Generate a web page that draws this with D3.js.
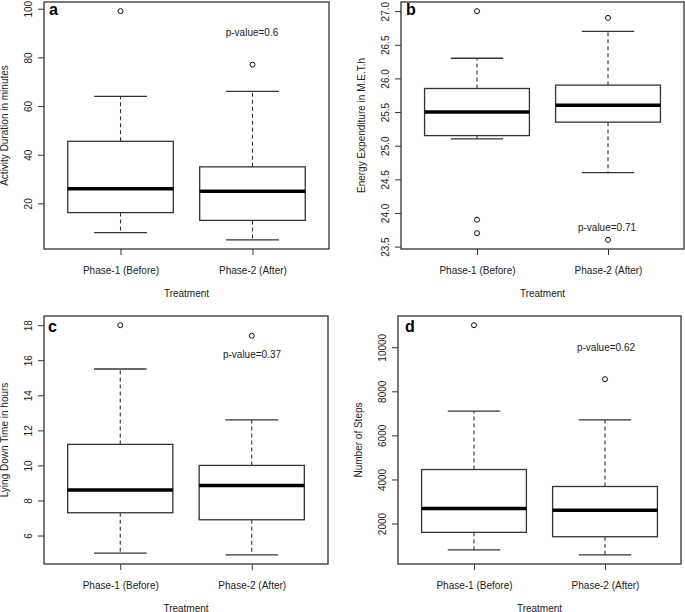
<!DOCTYPE html>
<html>
<head>
<meta charset="utf-8">
<script src="https://cdn.jsdelivr.net/npm/d3@7"></script>
<style>
  body { margin: 0; background: #fff; }
  svg { display: block; font-family: "Liberation Sans", Arial, Helvetica, sans-serif; }
</style>
</head>
<body>
<svg id="chart" width="685" height="612"></svg>
<script>
// ---- data (five-number summaries: [lower whisker, Q1, median, Q3, upper whisker]) ----
const categories = ["Phase-1 (Before)", "Phase-2 (After)"];
const xAxisTitle = "Treatment";

const activityBefore = [8, 16.2, 26, 45.5, 64];
const activityAfter = [5, 13, 25, 35, 66];
const activityOutliers = [[99], [77]];
const activityTicks = [20, 40, 60, 80, 100];

const energyBefore = [25.1, 25.15, 25.5, 25.85, 26.3];
const energyAfter = [24.6, 25.35, 25.6, 25.9, 26.7];
const energyOutliers = [[27.0, 23.9, 23.7], [26.9, 23.6]];
const energyTicks = [23.5, 24.0, 24.5, 25.0, 25.5, 26.0, 26.5, 27.0];

const lyingBefore = [5.0, 7.3, 8.6, 11.2, 15.5];
const lyingAfter = [4.9, 6.9, 8.85, 10.0, 12.6];
const lyingOutliers = [[18.0], [17.4]];
const lyingTicks = [6, 8, 10, 12, 14, 16, 18];

const stepsBefore = [800, 1600, 2680, 4450, 7100];
const stepsAfter = [580, 1400, 2600, 3680, 6700];
const stepsOutliers = [[11000], [8550]];
const stepsTicks = [2000, 4000, 6000, 8000, 10000];

const panelLetters = ["a", "b", "c", "d"];
const yTitles = ["Activity Duration in minutes", "Energy Expenditure in M.E.T.h", "Lying Down Time in hours", "Number of Steps"];
const pValues = ["p-value=0.6", "p-value=0.71", "p-value=0.37", "p-value=0.62"];

// ---- layout ----
const panels = [
  { stats: [activityBefore, activityAfter], outliers: activityOutliers, ticks: activityTicks, fmt: d3.format("d"),
    box: { l: 44, r: 329, t: 2, b: 249 }, letter: [49, 15], pv: [252, 36] },
  { stats: [energyBefore, energyAfter], outliers: energyOutliers, ticks: energyTicks, fmt: d3.format(".1f"),
    box: { l: 401, r: 684, t: 2, b: 249 }, letter: [406, 15], pv: [607, 231] },
  { stats: [lyingBefore, lyingAfter], outliers: lyingOutliers, ticks: lyingTicks, fmt: d3.format("d"),
    box: { l: 44, r: 328, t: 316, b: 564 }, letter: [48, 332], pv: [252, 357.5] },
  { stats: [stepsBefore, stepsAfter], outliers: stepsOutliers, ticks: stepsTicks, fmt: d3.format("d"),
    box: { l: 398, r: 681, t: 316, b: 564 }, letter: [405, 332], pv: [606, 351] }
];

const svg = d3.select("#chart");
const lineCol = "#333";
const textCol = "#222";

panels.forEach((p, i) => {
  const B = p.box;
  const allVals = p.stats.flat().concat(p.outliers.flat());
  const [mn, mx] = d3.extent(allVals);
  const ext = (mx - mn) * 0.04;
  const y = d3.scaleLinear().domain([mn - ext, mx + ext]).range([B.b, B.t]);
  const x = d3.scalePoint().domain(categories).range([B.l, B.r]).padding(0.58);
  const bw = x.step() * 0.8;

  const g = svg.append("g");

  // y axis
  const ya = g.append("g").attr("transform", `translate(${B.l},0)`)
    .call(d3.axisLeft(y).tickValues(p.ticks).tickFormat(p.fmt).tickSize(6).tickSizeOuter(0));
  ya.select(".domain").remove();
  ya.selectAll(".tick line").attr("stroke", lineCol).attr("stroke-width", 1);
  ya.selectAll(".tick text")
    .attr("transform", "rotate(-90)")
    .attr("x", 0).attr("y", -12).attr("dy", 0)
    .attr("text-anchor", "middle")
    .attr("font-size", 10).attr("fill", textCol).attr("font-family", null);

  // x axis
  const xa = g.append("g").attr("transform", `translate(0,${B.b})`)
    .call(d3.axisBottom(x).tickSize(6).tickSizeOuter(0));
  xa.select(".domain").remove();
  xa.selectAll(".tick line").attr("stroke", lineCol).attr("stroke-width", 1);
  xa.selectAll(".tick text").attr("y", 0).attr("dy", 0)
    .attr("transform", "translate(0,24.5)")
    .attr("font-size", 10).attr("fill", textCol).attr("font-family", null);

  // plot frame
  g.append("rect").attr("x", B.l).attr("y", B.t).attr("width", B.r - B.l).attr("height", B.b - B.t)
    .attr("fill", "none").attr("stroke", lineCol).attr("stroke-width", 1.3);

  // boxes
  categories.forEach((c, j) => {
    const s = p.stats[j];
    const cx = x(c);
    // whiskers
    g.append("line").attr("x1", cx).attr("x2", cx).attr("y1", y(s[3])).attr("y2", y(s[4]))
      .attr("stroke", lineCol).attr("stroke-width", 1.1).attr("stroke-dasharray", "4,3");
    g.append("line").attr("x1", cx).attr("x2", cx).attr("y1", y(s[1])).attr("y2", y(s[0]))
      .attr("stroke", lineCol).attr("stroke-width", 1.1).attr("stroke-dasharray", "4,3");
    // staples
    [s[0], s[4]].forEach(v => {
      g.append("line").attr("x1", cx - bw / 4).attr("x2", cx + bw / 4).attr("y1", y(v)).attr("y2", y(v))
        .attr("stroke", lineCol).attr("stroke-width", 1.3);
    });
    // box
    g.append("rect").attr("x", cx - bw / 2).attr("y", y(s[3])).attr("width", bw).attr("height", y(s[1]) - y(s[3]))
      .attr("fill", "#fff").attr("stroke", lineCol).attr("stroke-width", 1.3);
    // median
    g.append("line").attr("x1", cx - bw / 2).attr("x2", cx + bw / 2).attr("y1", y(s[2])).attr("y2", y(s[2]))
      .attr("stroke", "#000").attr("stroke-width", 3.5);
    // outliers
    p.outliers[j].forEach(v => {
      g.append("circle").attr("cx", cx).attr("cy", y(v)).attr("r", 2.5)
        .attr("fill", "none").attr("stroke", "#111").attr("stroke-width", 1);
    });
  });

  // p-value
  g.append("text").attr("x", p.pv[0]).attr("y", p.pv[1]).attr("text-anchor", "middle")
    .attr("font-size", 10).attr("fill", textCol).text(pValues[i]);

  // panel letter
  g.append("text").attr("x", p.letter[0]).attr("y", p.letter[1])
    .attr("font-size", 16).attr("font-weight", "bold").attr("fill", "#000").text(panelLetters[i]);

  // axis titles
  const ym = (B.t + B.b) / 2;
  g.append("text").attr("transform", `translate(${B.l - 36},${ym}) rotate(-90)`)
    .attr("text-anchor", "middle").attr("font-size", 10).attr("fill", textCol).text(yTitles[i]);
  g.append("text").attr("x", (B.l + B.r) / 2).attr("y", B.b + 47.5)
    .attr("text-anchor", "middle").attr("font-size", 10).attr("fill", textCol).text(xAxisTitle);
});
</script>
</body>
</html>
